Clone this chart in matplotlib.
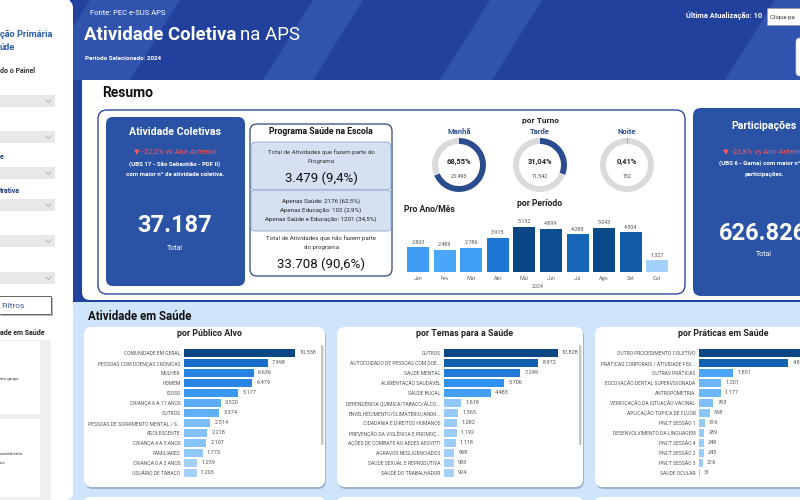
import matplotlib
matplotlib.use("Agg")
import matplotlib.pyplot as plt
from matplotlib.patches import FancyBboxPatch, Rectangle, Polygon
from matplotlib.colors import LinearSegmentedColormap

plt.rcParams['font.family'] = ['Roboto', 'DejaVu Sans']

# ---- dados ----
meses = ['Jan', 'Fev', 'Mar', 'Abr', 'Mai', 'Jun', 'Jul', 'Ago', 'Set', 'Out']
atividades_mes = [2803, 2489, 2786, 3915, 5132, 4899, 4289, 5043, 4504, 1327]

turnos = ['Manhã', 'Tarde', 'Noite']
atividades_turno = [25493, 11542, 152]

pse_saude, pse_educacao, pse_ambos = 2176, 102, 1201
total_participacoes = 626826
var_atividades = -22.2
var_participacoes = -23.8

publico_labels = ['COMUNIDADE EM GERAL', 'PESSOAS COM DOENÇAS CRÔNICAS', 'MULHER', 'HOMEM', 'IDOSO',
                  'CRIANÇA 6 A 11 ANOS', 'OUTROS', 'PESSOAS DE SOFRIMENTO MENTAL / S...', 'ADOLESCENTE',
                  'CRIANÇA 4 A 5 ANOS', 'FAMILIARES', 'CRIANÇA 0 A 3 ANOS', 'USUÁRIO DE TABACO']
publico_valores = [10558, 7998, 6636, 6479, 5177, 3520, 3374, 2514, 2218, 2107, 1773, 1259, 1203]

temas_labels = ['OUTROS', 'AUTOCUIDADO DE PESSOAS COM DOE...', 'SAÚDE MENTAL', 'ALIMENTAÇÃO SAUDÁVEL',
                'SAÚDE BUCAL', 'DEPENDÊNCIA QUÍMICA/TABACO/ÁLCO...', 'ENVELHECIMENTO/CLIMATÉRIO/ANDR...',
                'CIDADANIA E DIREITOS HUMANOS', 'PREVENÇÃO DA VIOLÊNCIA E PROMOÇ...',
                'AÇÕES DE COMBATE AO AEDES AEGYPTI', 'AGRAVOS NEGLIGENCIADOS', 'SAÚDE SEXUAL E REPRODUTIVA',
                'SAÚDE DO TRABALHADOR']
temas_valores = [10828, 8972, 7249, 5706, 4483, 1618, 1365, 1282, 1192, 1118, 968, 933, 924]

praticas_labels = ['OUTRO PROCEDIMENTO COLETIVO', 'PRÁTICAS CORPORAIS / ATIVIDADE FÍSI...', 'OUTRAS PRÁTICAS',
                   'ESCOVAÇÃO DENTAL SUPERVISIONADA', 'ANTROPOMETRIA', 'VERIFICAÇÃO DA SITUAÇÃO VACINAL',
                   'APLICAÇÃO TÓPICA DE FLÚOR', 'PNCT SESSÃO 1', 'DESENVOLVIMENTO DA LINGUAGEM', 'PNCT SESSÃO 4',
                   'PNCT SESSÃO 2', 'PNCT SESSÃO 3', 'SAÚDE OCULAR']
praticas_valores = [6054, 4836, 1851, 1201, 1177, 763, 568, 316, 289, 248, 245, 216, 31]

total_atividades = sum(atividades_turno)
pse_total = pse_saude + pse_educacao + pse_ambos
pse_fora = total_atividades - pse_total

# ---- estilo ----
NAVY = '#21419c'
STRIPE = '#3053ad'
CARD = '#2a52a5'
RED = '#ff5757'
LIGHTBG = '#cfe5fb'
cmap = LinearSegmentedColormap.from_list('pbi', [(0, '#a3d0fd'), (0.3, '#4ca6f8'), (0.5, '#2d90ee'),
                                                 (0.7, '#1a72cf'), (0.85, '#115aa6'), (1, '#0a4683')])


def fmt_int(v):
    return f"{v:,}".replace(',', '.')


def fmt_pct(v, d=1):
    return f"{v:.{d}f}%".replace('.', ',')


def bar_colors(vals):
    lo, hi = min(vals), max(vals)
    return [cmap((v - lo) / (hi - lo)) for v in vals]


fig = plt.figure(figsize=(8, 5), dpi=100)
bg = fig.add_axes([0, 0, 1, 1])
bg.set_xlim(0, 800)
bg.set_ylim(500, 0)
bg.axis('off')


def px_axes(x0, y0, x1, y1):
    return fig.add_axes([x0 / 800, 1 - y1 / 500, (x1 - x0) / 800, (y1 - y0) / 500])


def rbox(x, y, w, h, r, fc, ec='none', lw=0, z=1):
    bg.add_patch(FancyBboxPatch((x, y), w, h, boxstyle=f"round,pad=0,rounding_size={r}",
                                fc=fc, ec=ec, lw=lw, zorder=z))


def txt(x, y, s, size, color='#222222', weight='normal', ha='left', z=5):
    return bg.text(x, y, s, fontsize=size, color=color, weight=weight, ha=ha, va='center', zorder=z)


# fundo
bg.add_patch(Rectangle((0, 0), 800, 500, fc=LIGHTBG, zorder=0))
bg.add_patch(Rectangle((70, 0), 730, 302, fc=NAVY, zorder=0))
for xb, w in [(40, 90), (263, 50), (440, 52), (725, 120)]:
    bg.add_patch(Polygon([(xb, 80), (xb + w, 80), (xb + w + 50, 0), (xb + 50, 0)], fc=STRIPE, ec='none', zorder=0.5))

# cabeçalho
txt(90, 13, 'Fonte: PEC e-SUS APS', 5.5, 'white')
t1 = txt(84, 35, 'Atividade Coletiva', 13.4, 'white', 'bold')
fig.canvas.draw()
ext = t1.get_window_extent()
txt(ext.x1 + 4, 35, 'na APS', 13.4, 'white')
txt(85, 58, 'Período Selecionado: 2024', 4.5, 'white', 'bold')
txt(686, 16, 'Última Atualização: 10', 5.4, 'white', 'bold')
bg.add_patch(Rectangle((767, 8), 40, 17, fc='white', ec='#999999', lw=0.4, zorder=6))
txt(770, 17, 'Clique pa', 4.3, '#333333', z=7)
rbox(796, 38, 20, 38, 4, 'white', '#cccccc', 0.5, z=3)

# barra lateral
rbox(-10, 0, 83, 500, 8, 'white', z=2)
txt(0, 34, 'ção Primária', 6.6, '#2a5caa', 'bold', z=3)
txt(0, 47, 'úde', 6.6, '#2a5caa', 'bold', z=3)
txt(0, 71, 'do o Painel', 5, '#333333', 'bold', z=3)
for y in [95, 131, 167, 199, 235, 272]:
    bg.add_patch(Rectangle((0, y), 55, 12, fc='#e8e8e8', zorder=3))
    bg.plot([46, 48.5, 51], [y + 5, y + 7.5, y + 5], color='#a0a0a0', lw=0.5, zorder=4)
txt(0, 157, 'e', 5, '#1f3c7a', 'bold', z=3)
txt(0, 191, 'trativa', 5, '#1f3c7a', 'bold', z=3)
bg.add_patch(Rectangle((1, 298), 52, 18, fc='#777777', alpha=0.5, zorder=3))
bg.add_patch(Rectangle((-1, 296), 52, 18, fc='white', ec='#666666', lw=0.7, zorder=3))
txt(1, 305.5, 'Filtros', 6, '#3b5a9a', z=4)
txt(0, 333, 'ade em Saúde', 5, '#222222', 'bold', z=3)
bg.add_patch(Rectangle((0, 340), 51, 160, fc='#efefef', zorder=3))
bg.add_patch(Rectangle((0, 341), 40, 73, fc='white', zorder=3))
bg.add_patch(Rectangle((0, 419), 40, 78, fc='white', zorder=3))
txt(0, 379, 'em grupo', 3.2, '#333333', z=4)
txt(0, 454, 'ocedimento', 3.2, '#333333', z=4)
txt(0, 463, 'ivo', 3.2, '#333333', z=4)

# painel Resumo
bg.add_patch(Rectangle((82, 80), 718, 200, fc='white', zorder=1))
rbox(82, 80, 730, 220, 8, 'white')
txt(102, 93, 'Resumo', 10, '#111111', 'bold')
rbox(98, 110, 587, 184, 9, 'white', '#2b4c9b', 1.0, z=1.5)

# cartão Atividades
rbox(106, 117, 139, 169, 7, CARD, z=2)
txt(175, 132, 'Atividade Coletivas', 7.6, 'white', 'bold', 'center')
txt(175, 152, f'▼ {fmt_pct(var_atividades)} vs Ano Anterior', 5.4, RED, ha='center')
txt(175, 164, '(UBS 17 - São Sebastião - PDF II)', 4.4, 'white', 'bold', 'center')
txt(175, 174, 'com maior nº de atividade coletiva.', 4.4, 'white', 'bold', 'center')
txt(175, 226, fmt_int(total_atividades), 17, 'white', 'bold', 'center')
txt(175, 248, 'Total', 5, 'white', ha='center')

# Programa Saúde na Escola
rbox(250, 124, 142, 152, 7, 'white', '#2c4a85', 0.9, z=2)
rbox(251, 142, 140, 48, 5, '#d5e0f1', '#8ea3c9', 0.6, z=2.2)
rbox(251, 190, 140, 41, 4, '#d5e0f1', '#8ea3c9', 0.6, z=2.2)
cx = 321
txt(cx, 132, 'Programa Saúde na Escola', 6.2, '#111111', 'bold', 'center')
txt(cx, 152, 'Total de Atividades que fazem parte do', 4.4, '#333333', ha='center')
txt(cx, 161, 'Programa', 4.4, '#333333', ha='center')
txt(cx, 178, f'{fmt_int(pse_total)} ({fmt_pct(100 * pse_total / total_atividades)})', 9.5, '#111111', ha='center')
txt(cx, 201, f'Apenas Saúde: {pse_saude} ({fmt_pct(100 * pse_saude / pse_total)})', 4.4, '#222222', ha='center')
txt(cx, 210, f'Apenas Educação: {pse_educacao} ({fmt_pct(100 * pse_educacao / pse_total)})', 4.4, '#222222', ha='center')
txt(cx, 219, f'Apenas Saúde e Educação: {pse_ambos} ({fmt_pct(100 * pse_ambos / pse_total)})', 4.4, '#222222', ha='center')
txt(cx, 238, 'Total de Atividades que não fazem parte', 4.4, '#333333', ha='center')
txt(cx, 247, 'do programa', 4.4, '#333333', ha='center')
txt(cx, 264, f'{fmt_int(pse_fora)} ({fmt_pct(100 * pse_fora / total_atividades)})', 9.5, '#111111', ha='center')

# por Turno
txt(540, 121, 'por Turno', 6, '#222222', 'bold', 'center')
for nome, v, dx in zip(turnos, atividades_turno, [459, 540, 627]):
    txt(dx, 132, nome, 5.5, '#2e4f8e', 'bold', 'center')
    ax = px_axes(dx - 31, 165 - 31, dx + 31, 165 + 31)
    ax.pie([v, total_atividades - v], colors=['#2a4b8d', '#dadada'], startangle=90, counterclock=False,
           radius=1, wedgeprops=dict(width=0.22, edgecolor='none'))
    ax.set_xlim(-1.15, 1.15)
    ax.set_ylim(-1.15, 1.15)
    ax.axis('off')
    txt(dx, 162, fmt_pct(100 * v / total_atividades, 2), 5.4, '#222222', 'bold', 'center')
    txt(dx, 176, fmt_int(v), 3.8, '#444444', ha='center')

# por Período
txt(540, 204, 'por Período', 6.2, '#222222', 'bold', 'center')
txt(404, 210, 'Pro Ano/Mês', 6.2, '#222222', 'bold')
axm = px_axes(404.7, 222, 670.7, 272)
xs = range(len(meses))
axm.bar(xs, atividades_mes, width=0.83, color=bar_colors(atividades_mes))
for i, v in enumerate(atividades_mes):
    axm.annotate(fmt_int(v), (i, v), xytext=(0, 2), textcoords='offset points', ha='center', va='bottom',
                 fontsize=3.9, color='#555555')
axm.set_xlim(-0.5, len(meses) - 0.5)
axm.set_ylim(0, 5700)
axm.set_xticks(list(xs), meses)
axm.tick_params(axis='x', length=0, labelsize=3.9, labelcolor='#666666', pad=3)
axm.set_yticks([])
for s in axm.spines.values():
    s.set_visible(False)
axm.patch.set_alpha(0)
txt(538, 286, '2024', 3.9, '#666666', ha='center')

# cartão Participações
rbox(693, 108, 170, 188, 8, CARD, z=2)
pcx = 764
txt(pcx, 126, 'Participações', 7.6, 'white', 'bold', 'center')
txt(pcx, 152, f'▼ {fmt_pct(var_participacoes)} vs Ano Anterior', 5.4, RED, ha='center')
txt(pcx, 163, '(UBS 6 - Gama) com maior nº de', 4.4, 'white', 'bold', 'center')
txt(pcx, 174, 'participações.', 4.4, 'white', 'bold', 'center')
txt(719, 233, fmt_int(total_participacoes), 17, 'white', 'bold')
txt(pcx, 254, 'Total', 5, 'white', ha='center')

# Atividade em Saúde
txt(88, 316, 'Atividade em Saúde', 8.3, '#111111', 'bold')
cards = [(84, 241, 184, 'por Público Alvo', publico_labels, publico_valores, 0.0105),
         (337, 246, 444, 'por Temas para a Saúde', temas_labels, temas_valores, 0.0105),
         (595, 246, 699, 'por Práticas em Saúde', praticas_labels, praticas_valores, 0.0185)]
for x0, w, bx, titulo, labs, vals, esc in cards:
    rbox(x0 + 1, 329, w, 160, 8, '#9fb4cc', z=1)
    rbox(x0, 327, w, 160, 8, 'white', z=1.2)
    rbox(x0, 497, w, 10, 6, 'white', z=1.2)
    txt(x0 + w / 2 + 5, 334, titulo, 6.4, '#222222', 'bold', 'center')
    ax = px_axes(bx, 348, bx + 130, 478)
    n = len(vals)
    ax.barh(range(n), vals, height=0.72, color=bar_colors(vals))
    for i, v in enumerate(vals):
        ax.annotate(fmt_int(v), (v, i), xytext=(3, 0), textcoords='offset points', va='center',
                    fontsize=4, color='#555555')
    ax.set_xlim(0, 130 / esc)
    ax.set_ylim(n - 0.5, -0.5)
    ax.set_yticks(range(n), labs)
    ax.tick_params(axis='y', length=0, labelsize=3.6, labelcolor='#555555', pad=2.5)
    ax.set_xticks([])
    for s in ax.spines.values():
        s.set_visible(False)
    ax.patch.set_alpha(0)
    rbox(x0 + w - 4, 345, 2.5, 100, 1.2, '#c6c6c6', z=1.5)

fig.savefig('out.png', dpi=100)
